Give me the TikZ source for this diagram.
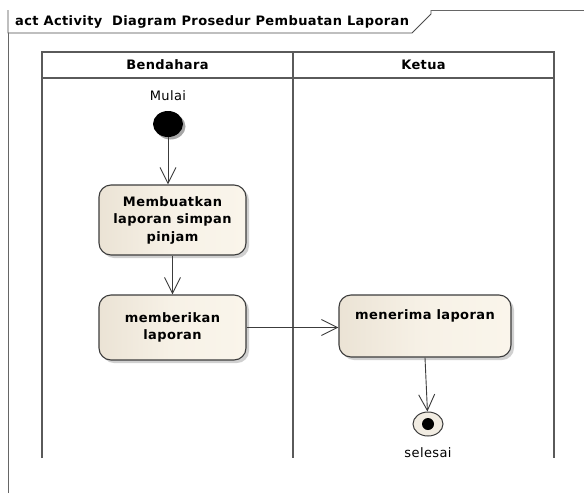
\documentclass[tikz,border=0pt]{standalone}
\usepackage{fontspec}
\setmainfont[LetterSpace=3]{DejaVu Sans}
\usetikzlibrary{arrows.meta,shadows,shapes.geometric}
\definecolor{edgegray}{HTML}{3C3C3C}
\definecolor{lanegray}{HTML}{5A5A5A}
\definecolor{actlight}{HTML}{FAF5EB}
\definecolor{actdark}{HTML}{EBE3D5}
\definecolor{finfill}{HTML}{F1ECE2}
\tikzset{
  lbl/.style={font=\fontsize{13}{15}\selectfont\bfseries, inner sep=0pt},
  plainlbl/.style={font=\fontsize{13}{15}\selectfont, inner sep=0pt},
  action/.style={draw=edgegray, line width=1.1pt, rounded corners=12pt,
    left color=actdark, right color=actlight, middle color=actlight!80!actdark,
    drop shadow={shadow xshift=3pt, shadow yshift=-3pt, opacity=.3, fill=black!60},
    align=center, font=\fontsize{13}{17.5}\selectfont\bfseries, inner sep=0pt},
  flow/.style={draw=edgegray, line width=0.9pt,
    -{Straight Barb[length=16pt,width=16pt,line width=0.9pt]}},
  lane/.style={draw=lanegray, line width=1.8pt},
}
\begin{document}
\begin{tikzpicture}[x=1pt,y=-1pt]
  \useasboundingbox[fill=white] (0,0) rectangle (584,493);

  % diagram frame and its name tab
  \draw[draw=black!60, line width=0.8pt] (8,493) -- (8,10) -- (584,10);
  \draw[draw=black!70, line width=0.8pt, fill=white]
    (8,10) -- (8,33) -- (412,33) -- (431,14) -- (431,10);
  \node[lbl, anchor=west] (title) at (15,22) {act Activity \ Diagram Prosedur Pembuatan Laporan};

  % swimlanes
  \draw[lane] (42,458) -- (42,52) -- (554,52) -- (554,458);
  \draw[lane] (42,78) -- (554,78);
  \draw[lane] (293,52) -- (293,458);
  \node[lbl] (laneA) at (167.5,65) {Bendahara};
  \node[lbl] (laneB) at (423.5,65) {Ketua};

  % start node
  \node[plainlbl] (mulai) at (168,96) {Mulai};
  \fill[black!35] (170.5,126.5) ellipse [x radius=15pt, y radius=13pt];
  \node[ellipse, fill=black, minimum width=30pt, minimum height=26pt, inner sep=0pt] (ini) at (168,124) {};

  % actions
  \node[action, minimum width=147pt, minimum height=70pt] (a1) at (172.5,220)
    {Membuatkan\\laporan simpan\\pinjam};
  \node[action, minimum width=147pt, minimum height=65pt] (a2) at (172.5,327.5)
    {memberikan\\laporan};
  \node[action, minimum width=172pt, minimum height=62pt,
        font=\fontsize{13}{18}\selectfont\bfseries] (a3) at (425,326)
    {menerima laporan\\\strut};

  % final node
  \node[ellipse, draw=edgegray, line width=1pt, fill=finfill,
        minimum width=30pt, minimum height=24pt, inner sep=0pt] (fin) at (428,424) {};
  \node[circle, fill=black, minimum size=12pt, inner sep=0pt] (finDot) at (fin.center) {};
  \node[plainlbl] (selesai) at (428,453) {selesai};

  % control flows
  \draw[flow] (ini) -- (ini |- a1.north);
  \draw[flow] (a1) -- (a2);
  \draw[flow] (a2.east) -- (a3.west |- a2.east);
  \draw[flow] (a3.south) -- (fin);
\end{tikzpicture}
\end{document}
